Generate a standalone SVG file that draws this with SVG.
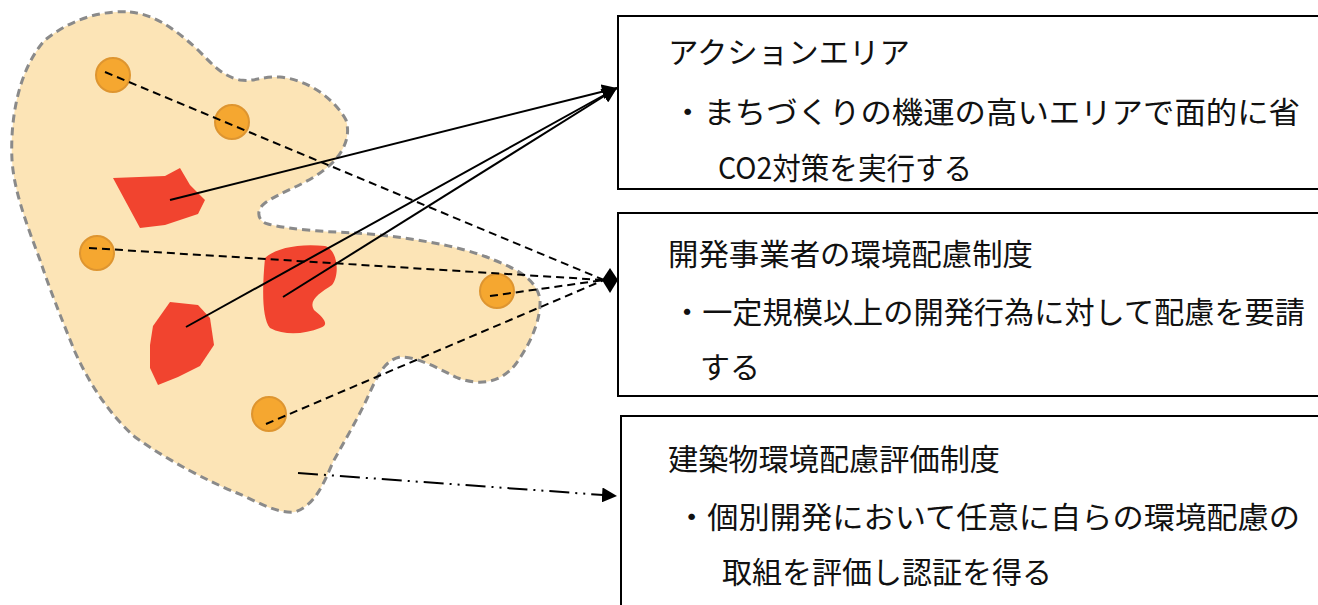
<svg xmlns="http://www.w3.org/2000/svg" width="1318" height="605" viewBox="0 0 1318 605">
<style>
.box{fill:#fff;stroke:#000;stroke-width:2}
.t{font-family:"Noto Sans CJK JP","Noto Sans",sans-serif;font-size:30px;fill:#111}
.dot{fill:#F5A730;stroke:#DE9530;stroke-width:2}
.red{fill:#F1442F}
.solid{stroke:#000;stroke-width:2;fill:none}
.dash{stroke:#000;stroke-width:2;fill:none;stroke-dasharray:8 5}
.dd{stroke:#000;stroke-width:2;fill:none;stroke-dasharray:20 6 2 6 2 6}
</style>
<defs>
<marker id="arr" viewBox="0 0 10 10" refX="10" refY="5" markerWidth="15" markerHeight="15" markerUnits="userSpaceOnUse" orient="auto"><path d="M0,0 L10,5 L0,10 Z" fill="#000"/></marker>
</defs>
<g id="area">
<path d="M130,12 C150,14 170,24 198,50 C212,64 222,76 240,80 C255,82 262,76 280,77 C310,80 335,100 346,120 C352,140 340,158 324,170 C305,185 280,192 265,203 C255,210 258,222 268,224 C290,230 330,232 356,233 C400,236 460,245 494,260 C520,270 538,282 540,300 C541,320 530,345 515,365 C500,383 480,386 458,378 C440,370 420,357 400,357 C385,360 378,375 370,392 C360,415 345,440 333,462 C323,485 315,505 295,512 C275,514 255,500 237,493 C210,482 170,462 135,437 C110,415 90,385 75,352 C62,320 50,290 40,260 C25,220 14,190 12,160 C10,120 18,70 45,40 C70,20 100,10 130,12 Z" fill="#FCE4B6" stroke="#8a8a8a" stroke-width="3" stroke-dasharray="8 5"/>
</g>
<g id="red-a"><path class="red" d="M113,178 L165,176 L180,168 L190,185 L205,200 L198,214 L165,225 L140,228 Z"/></g>
<g id="red-b"><path class="red" d="M265,258 C275,248 300,243 325,246 C338,250 340,275 332,285 C320,293 308,300 314,310 C324,318 330,325 320,328 C305,334 285,336 270,328 C262,318 262,290 265,258 Z"/></g>
<g id="red-c"><path class="red" d="M170,302 L198,305 L210,318 L214,345 L200,366 L178,377 L158,385 L150,368 L150,345 L153,326 Z"/></g>
<g id="dot1"><circle class="dot" cx="113" cy="75" r="17"/></g>
<g id="dot2"><circle class="dot" cx="232" cy="122" r="17"/></g>
<g id="dot3"><circle class="dot" cx="97" cy="253" r="17"/></g>
<g id="dot4"><circle class="dot" cx="497" cy="291" r="17"/></g>
<g id="dot5"><circle class="dot" cx="269" cy="414" r="17"/></g>
<g id="box1"><rect class="box" x="618" y="16" width="720" height="173"/>
<text class="t" x="668" y="63" textLength="242" lengthAdjust="spacingAndGlyphs">アクションエリア</text>
<text class="t" x="672" y="123" textLength="628" lengthAdjust="spacingAndGlyphs">・まちづくりの機運の高いエリアで面的に省</text>
<text class="t" x="718" y="179" textLength="254" lengthAdjust="spacingAndGlyphs">CO2対策を実行する</text></g>
<g id="box2"><rect class="box" x="618" y="213" width="720" height="183"/>
<text class="t" x="668" y="265" textLength="365" lengthAdjust="spacingAndGlyphs">開発事業者の環境配慮制度</text>
<text class="t" x="672" y="323" textLength="633" lengthAdjust="spacingAndGlyphs">・一定規模以上の開発行為に対して配慮を要請</text>
<text class="t" x="700" y="378" textLength="60" lengthAdjust="spacingAndGlyphs">する</text></g>
<g id="box3"><rect class="box" x="621" y="416" width="720" height="220"/>
<text class="t" x="668" y="470" textLength="332" lengthAdjust="spacingAndGlyphs">建築物環境配慮評価制度</text>
<text class="t" x="676" y="528" textLength="624" lengthAdjust="spacingAndGlyphs">・個別開発において任意に自らの環境配慮の</text>
<text class="t" x="722" y="583" textLength="330" lengthAdjust="spacingAndGlyphs">取組を評価し認証を得る</text></g>
<g id="connectors">
<line class="solid" x1="170" y1="200" x2="617" y2="88" marker-end="url(#arr)"/>
<line class="solid" x1="186" y1="327" x2="617" y2="88" marker-end="url(#arr)"/>
<line class="solid" x1="283" y1="297" x2="617" y2="88" marker-end="url(#arr)"/>
<line class="dash" x1="105" y1="72" x2="604" y2="280"/>
<line class="dash" x1="89" y1="248" x2="604" y2="280"/>
<line class="dash" x1="490" y1="296" x2="604" y2="280"/>
<line class="dash" x1="266" y1="424" x2="604" y2="280"/>
<path d="M602,280 L610,268 L618,280 L610,293 Z" fill="#000"/>
<line class="dd" x1="298" y1="473" x2="617" y2="496" marker-end="url(#arr)"/>
</g>
</svg>
